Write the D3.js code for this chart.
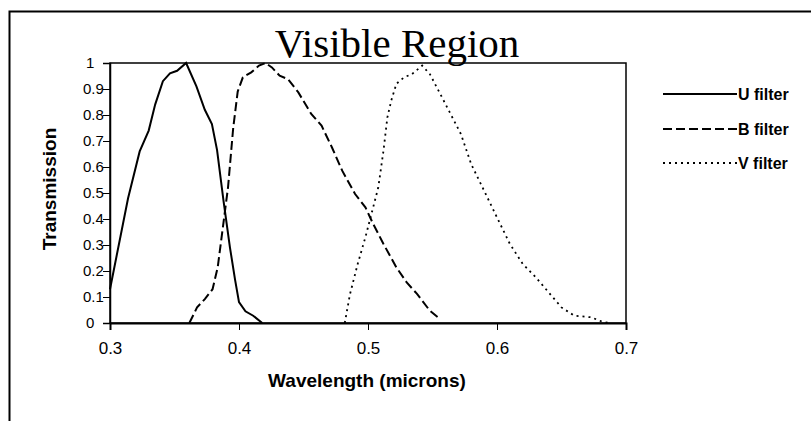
<!DOCTYPE html>
<html>
<head>
<meta charset="utf-8">
<script src="https://cdn.jsdelivr.net/npm/d3@7"></script>
<style>
  body { margin: 0; background: #fff; }
  svg { display: block; }
  text { font-family: "Liberation Sans", Arial, sans-serif; fill: #000; }
</style>
</head>
<body>
<div id="chart"></div>
<script>
// U filter (solid)
const uWave = [0.300, 0.310, 0.314, 0.323, 0.330, 0.335, 0.341, 0.3465, 0.352, 0.359, 0.367, 0.3735, 0.379, 0.383, 0.388, 0.393, 0.397, 0.400, 0.405, 0.411, 0.418];
const uTrans = [0.13, 0.38, 0.48, 0.66, 0.74, 0.84, 0.93, 0.96, 0.97, 1.00, 0.91, 0.82, 0.765, 0.665, 0.47, 0.29, 0.165, 0.08, 0.045, 0.028, 0.0];

// B filter (dashed)
const bWave = [0.3615, 0.3675, 0.3735, 0.3795, 0.3835, 0.3875, 0.3915, 0.3955, 0.399, 0.403, 0.4095, 0.4155, 0.4205, 0.4255, 0.4315, 0.438, 0.446, 0.456, 0.464, 0.472, 0.480, 0.490, 0.498, 0.504, 0.512, 0.522, 0.530, 0.538, 0.548, 0.556];
const bTrans = [0.0, 0.06, 0.092, 0.13, 0.214, 0.368, 0.522, 0.75, 0.89, 0.945, 0.964, 0.99, 1.0, 0.983, 0.951, 0.938, 0.887, 0.804, 0.759, 0.676, 0.586, 0.496, 0.445, 0.381, 0.304, 0.214, 0.156, 0.112, 0.047, 0.015];

// V filter (dotted)
const vWave = [0.482, 0.486, 0.492, 0.498, 0.504, 0.508, 0.512, 0.515, 0.518, 0.522, 0.528, 0.534, 0.542, 0.548, 0.556, 0.564, 0.572, 0.580, 0.590, 0.600, 0.610, 0.620, 0.630, 0.640, 0.650, 0.660, 0.673, 0.681, 0.687];
const vTrans = [0.0, 0.11, 0.227, 0.33, 0.445, 0.522, 0.663, 0.79, 0.855, 0.92, 0.945, 0.957, 0.99, 0.957, 0.881, 0.804, 0.727, 0.611, 0.509, 0.406, 0.304, 0.227, 0.176, 0.118, 0.06, 0.028, 0.022, 0.006, 0.0];

const xTicks = [0.3, 0.4, 0.5, 0.6, 0.7];
const yTicks = [0, 0.1, 0.2, 0.3, 0.4, 0.5, 0.6, 0.7, 0.8, 0.9, 1];
const seriesNames = ["U filter", "B filter", "V filter"];
const dashes = [null, "9,4", "2,4"];

const width = 811, height = 421;
const plotLeft = 110, plotRight = 626, plotTop = 63, plotBottom = 323;

const svg = d3.select("#chart").append("svg")
    .attr("width", width)
    .attr("height", height);

// outer frame of the scanned page (only left and top edges visible)
svg.append("path")
    .attr("d", `M9.5,${height} V11.5 H${width}`)
    .attr("fill", "none")
    .attr("stroke", "#000")
    .attr("stroke-width", 2);

const x = d3.scaleLinear().domain([0.3, 0.7]).range([plotLeft, plotRight]);
const y = d3.scaleLinear().domain([0, 1]).range([plotBottom, plotTop]);

// plot area box
svg.append("rect")
    .attr("x", plotLeft)
    .attr("y", plotTop)
    .attr("width", plotRight - plotLeft)
    .attr("height", plotBottom - plotTop)
    .attr("fill", "none")
    .attr("stroke", "#000")
    .attr("stroke-width", 1.5);

const xAxis = svg.append("g")
    .attr("transform", `translate(0,${plotBottom})`)
    .call(d3.axisBottom(x).tickValues(xTicks).tickFormat(d3.format(".1f")).tickSize(7).tickPadding(12));
xAxis.select(".domain").attr("stroke-width", 2);
xAxis.selectAll("text").attr("font-size", 17).attr("font-family", "Liberation Sans, Arial, sans-serif");

const yAxis = svg.append("g")
    .attr("transform", `translate(${plotLeft},0)`)
    .call(d3.axisLeft(y).tickValues(yTicks).tickFormat(d => d === 0 || d === 1 ? String(d) : d3.format(".1f")(d)).tickSize(7).tickPadding(4));
yAxis.select(".domain").attr("stroke-width", 1.5);
yAxis.selectAll("text")
    .attr("font-size", 15)
    .attr("font-family", "Liberation Sans, Arial, sans-serif")
    .attr("text-anchor", "start")
    .attr("x", d => d === 0 || d === 1 ? -24 : -27);

const line = d3.line()
    .x(d => x(d[0]))
    .y(d => y(d[1]));

const series = [
    d3.zip(uWave, uTrans),
    d3.zip(bWave, bTrans),
    d3.zip(vWave, vTrans)
];

series.forEach((s, i) => {
    svg.append("path")
        .datum(s)
        .attr("d", line)
        .attr("fill", "none")
        .attr("stroke", "#000")
        .attr("stroke-width", i === 2 ? 1.8 : 2)
        .attr("stroke-dasharray", dashes[i]);
});

// title
svg.append("text")
    .attr("x", 397)
    .attr("y", 57)
    .attr("text-anchor", "middle")
    .style("font-family", "'Liberation Serif', 'Times New Roman', serif")
    .attr("font-size", 41)
    .text("Visible Region");

// axis titles
svg.append("text")
    .attr("x", 367)
    .attr("y", 387)
    .attr("text-anchor", "middle")
    .attr("font-size", 19)
    .attr("font-weight", "bold")
    .text("Wavelength (microns)");

svg.append("text")
    .attr("transform", "translate(56,189) rotate(-90)")
    .attr("text-anchor", "middle")
    .attr("font-size", 19)
    .attr("font-weight", "bold")
    .text("Transmission");

// legend
const legend = svg.append("g");
const legendY = [94, 129, 163];
seriesNames.forEach((name, i) => {
    legend.append("line")
        .attr("x1", 663).attr("x2", 737)
        .attr("y1", legendY[i]).attr("y2", legendY[i])
        .attr("stroke", "#000")
        .attr("stroke-width", 2)
        .attr("stroke-dasharray", dashes[i]);
    legend.append("text")
        .attr("x", 738)
        .attr("y", legendY[i])
        .attr("dy", "0.35em")
        .attr("font-size", 16)
        .attr("font-weight", "bold")
        .text(name);
});
</script>
</body>
</html>
